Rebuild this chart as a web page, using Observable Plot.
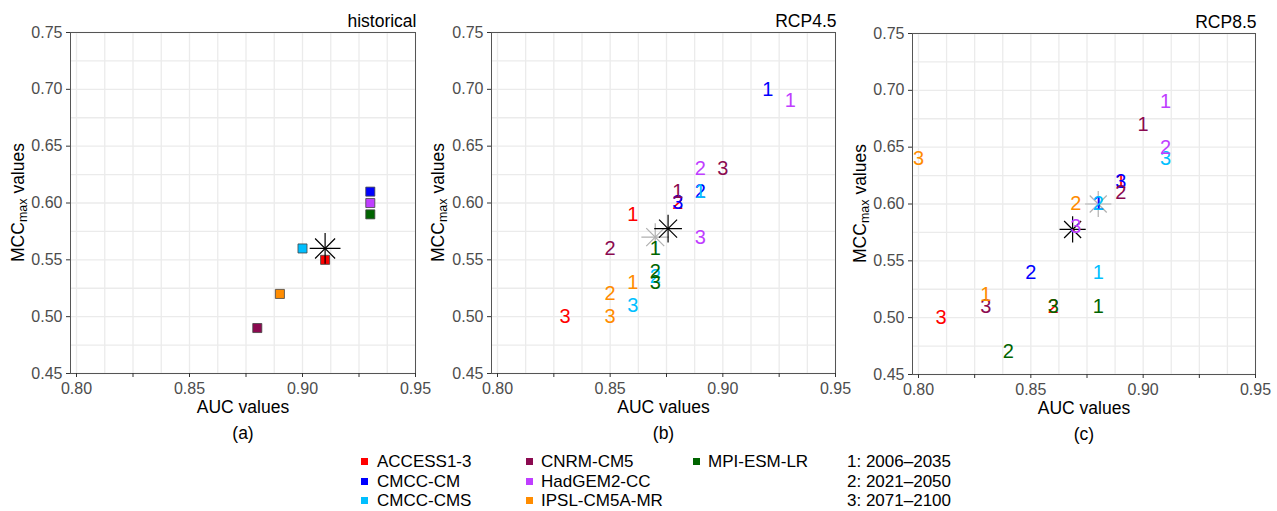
<!DOCTYPE html>
<html><head><meta charset="utf-8">
<script src="https://cdn.jsdelivr.net/npm/d3@7"></script>
<script src="https://cdn.jsdelivr.net/npm/@observablehq/plot@0.6"></script>
<style>
body{margin:0;background:#fff;font-family:"Liberation Sans",Arial,sans-serif;}
#wrap{position:relative;width:1277px;height:511px;overflow:hidden;background:#fff}
.panel{position:absolute;top:0}
.leg{position:absolute;font-size:17px;color:#000;line-height:19px;white-space:nowrap}
.sw{position:absolute;width:7px;height:7px}
</style></head><body><div id="wrap"></div>
<script>
const FONT = '"Liberation Sans", Arial, sans-serif';

// ---- categories ----
const models = ["ACCESS1-3","CMCC-CM","CMCC-CMS","CNRM-CM5","HadGEM2-CC","IPSL-CM5A-MR","MPI-ESM-LR"];
const modelColors = ["#ff0000","#0000ff","#00bfff","#8b0a50","#bf3eff","#ff8c00","#006400"];
const periods = ["1","2","3"];
const periodLabels = ["1: 2006\u20132035","2: 2021\u20132050","3: 2071\u20132100"];

// ---- historical (one value per model) ----
const histAUC = [0.91, 0.93, 0.90, 0.88, 0.93, 0.89, 0.93];
const histMCC = [0.55, 0.61, 0.56, 0.49, 0.60, 0.52, 0.59];
const histMean = [0.91, 0.56];

// ---- RCP4.5 (per model: periods 1,2,3) ----
const rcp45AUC = [[0.86,0.88,0.83],[0.92,0.89,0.88],[0.89,0.87,0.86],[0.88,0.85,0.90],[0.93,0.89,0.89],[0.86,0.85,0.85],[0.87,0.87,0.87]];
const rcp45MCC = [[0.59,0.60,0.50],[0.70,0.61,0.60],[0.61,0.535,0.51],[0.61,0.56,0.63],[0.69,0.63,0.57],[0.53,0.52,0.50],[0.56,0.54,0.53]];
const rcp45Mean = [0.8757, 0.5774];
const rcp45Median = [0.87, 0.57];

// ---- RCP8.5 (per model: periods 1,2,3) ----
const rcp85AUC = [[0.89,0.86,0.81],[0.88,0.85,0.89],[0.88,0.88,0.91],[0.90,0.89,0.83],[0.91,0.91,0.87],[0.83,0.87,0.80],[0.88,0.84,0.86]];
const rcp85MCC = [[0.62,0.51,0.50],[0.60,0.54,0.62],[0.54,0.60,0.64],[0.67,0.61,0.51],[0.69,0.65,0.58],[0.52,0.60,0.64],[0.51,0.47,0.51]];
const rcp85Mean = [0.8686, 0.5776];
const rcp85Median = [0.88, 0.60];

// ---- ticks ----
const xTickValues = [0.80,0.825,0.85,0.875,0.90,0.925,0.95];
const xGridValues = [0.80,0.8125,0.825,0.8375,0.85,0.8625,0.875,0.8875,0.90,0.9125,0.925,0.9375,0.95];
const yTickValues = [0.45,0.50,0.55,0.60,0.65,0.70,0.75];
const yGridValues = [0.45,0.475,0.50,0.525,0.55,0.575,0.60,0.625,0.65,0.675,0.70,0.725,0.75];

function rows(aucArr, mccArr) {
  const out = [];
  models.forEach((m, i) => periods.forEach((p, j) => out.push({model: m, period: p, auc: aucArr[i][j], mcc: mccArr[i][j]})));
  return out;
}

function star(pt, color, L) {
  const rp = Math.sqrt(((L/0.5687)**2 + 2)/Math.PI);
  const rt = Math.sqrt(((L/0.6189)**2 + 1.7)/Math.PI);
  const d = [{auc: pt[0], mcc: pt[1]}];
  return [
    Plot.dot(d, {x: "auc", y: "mcc", symbol: "plus", r: rp, stroke: color, strokeWidth: 1.2}),
    Plot.dot(d, {x: "auc", y: "mcc", symbol: "times", r: rt, stroke: color, strokeWidth: 1.2})
  ];
}

function makePanel({left, width, top, bottom, title, caption, ylx, marks}) {
  const height = 445;
  const svg = Plot.plot({
    width, height,
    marginLeft: 70, marginRight: 10, marginTop: top, marginBottom: height - bottom,
    style: {fontFamily: FONT, fontSize: "16px", background: "transparent", overflow: "visible"},
    x: {domain: [0.80, 0.95], insetLeft: 6},
    y: {domain: [0.45, 0.75]},
    color: {domain: models, range: modelColors},
    marks: [
      Plot.gridX({ticks: xGridValues, stroke: "#ebebeb", strokeOpacity: 1, strokeWidth: 1.3}),
      Plot.gridY({ticks: yGridValues, stroke: "#ebebeb", strokeOpacity: 1, strokeWidth: 1.3}),
      Plot.frame({stroke: "#555", strokeWidth: 1}),
      Plot.axisX({ticks: xTickValues, tickFormat: d => (Math.round(d*1000) % 50 === 0 ? d.toFixed(2) : ""),
        tickSize: 4, tickPadding: 5, fontSize: 16, fill: "#4d4d4d", stroke: "#333", label: null}),
      Plot.axisY({ticks: yTickValues, tickFormat: d => d.toFixed(2),
        tickSize: 4, tickPadding: 4, fontSize: 16, fill: "#4d4d4d", stroke: "#333", label: null}),
      ...marks,
      Plot.text([title], {text: d => d, frameAnchor: "top-right", dx: 1, dy: -11, textAnchor: "end", lineAnchor: "middle", fontSize: 17.5, fill: "#000"}),
      Plot.text(["AUC values"], {text: d => d, frameAnchor: "bottom", dy: 34, lineAnchor: "middle", fontSize: 17.5, fill: "#000"}),
      Plot.text([caption], {text: d => d, frameAnchor: "bottom", dy: 60, lineAnchor: "middle", fontSize: 17.5, fill: "#000"})
    ]
  });
  const s = d3.select(svg);
  const t = s.append("text")
    .attr("transform", `translate(${ylx},${(top + bottom) / 2}) rotate(-90)`)
    .attr("text-anchor", "middle").attr("font-size", 17.5).attr("fill", "#000").attr("dy", "0.35em");
  t.append("tspan").text("MCC");
  t.append("tspan").attr("font-size", 12.5).attr("dy", 3).text("max");
  t.append("tspan").attr("dy", -3).text(" values");
  svg.classList.add("panel");
  svg.style.left = left + "px";
  svg.style.position = "absolute";
  svg.style.top = "0px";
  document.getElementById("wrap").appendChild(svg);
}

// Panel (a)
const histData = models.map((m, i) => ({model: m, auc: histAUC[i], mcc: histMCC[i]}));
makePanel({
  left: 0, width: 425, top: 32, bottom: 373, title: "historical", caption: "(a)", ylx: 18,
  marks: [
    Plot.dot(histData, {x: "auc", y: "mcc", fill: "model", symbol: "square", r: 5.1, stroke: "#444", strokeWidth: 0.8}),
    ...star(histMean, "#000", 10)
  ]
});

// Panel (b)
makePanel({
  left: 421, width: 424, top: 32, bottom: 373, title: "RCP4.5", caption: "(b)", ylx: 17,
  marks: [
    ...star(rcp45Median, "#b0b0b0", 9),
    ...star(rcp45Mean, "#000", 9),
    Plot.text(rows(rcp45AUC, rcp45MCC), {x: "auc", y: "mcc", text: "period", fill: "model", fontSize: 20})
  ]
});

// Panel (c)
makePanel({
  left: 842, width: 423, top: 33, bottom: 374, title: "RCP8.5", caption: "(c)", ylx: 18,
  marks: [
    ...star(rcp85Median, "#b0b0b0", 8.5),
    ...star(rcp85Mean, "#000", 8.5),
    Plot.text(rows(rcp85AUC, rcp85MCC), {x: "auc", y: "mcc", text: "period", fill: "model", fontSize: 20})
  ]
});

// Legend
const wrap = document.getElementById("wrap");
const swX = [361, 526, 693], txX = [377, 541, 708];
const rowY = [461, 481, 500];
models.forEach((m, i) => {
  const c = Math.floor(i / 3), r = i % 3;
  const sw = document.createElement("div");
  sw.className = "sw"; sw.style.left = swX[c] + "px"; sw.style.top = (rowY[r] - 3.5) + "px";
  sw.style.background = modelColors[i];
  wrap.appendChild(sw);
  const tx = document.createElement("div");
  tx.className = "leg"; tx.style.left = txX[c] + "px"; tx.style.top = (rowY[r] - 9.5) + "px";
  tx.textContent = m;
  wrap.appendChild(tx);
});
periodLabels.forEach((p, r) => {
  const tx = document.createElement("div");
  tx.className = "leg"; tx.style.left = "847px"; tx.style.top = (rowY[r] - 9.5) + "px";
  tx.textContent = p;
  wrap.appendChild(tx);
});
</script></body></html>
